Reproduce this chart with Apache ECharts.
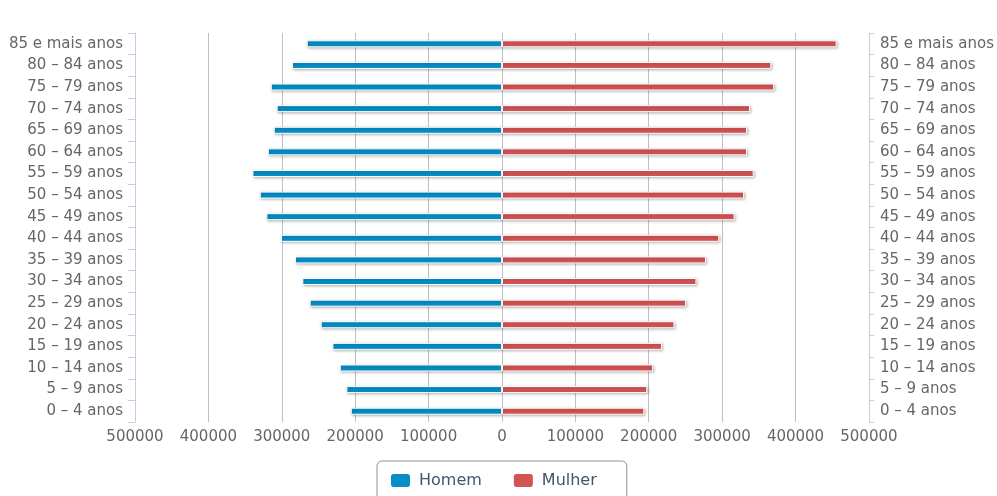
<!DOCTYPE html>
<html>
<head>
<meta charset="utf-8">
<script src="https://cdn.jsdelivr.net/npm/echarts@6/dist/echarts.min.js"></script>
<style>
  html, body { margin: 0; padding: 0; background: #fff; }
  #chart { width: 997px; height: 496px; }
</style>
</head>
<body>
<div id="chart"></div>
<script>
// Age groups, youngest first (bottom of the pyramid)
const categories = [
  '0 – 4 anos', '5 – 9 anos', '10 – 14 anos', '15 – 19 anos', '20 – 24 anos',
  '25 – 29 anos', '30 – 34 anos', '35 – 39 anos', '40 – 44 anos', '45 – 49 anos',
  '50 – 54 anos', '55 – 59 anos', '60 – 64 anos', '65 – 69 anos', '70 – 74 anos',
  '75 – 79 anos', '80 – 84 anos', '85 e mais anos'
];

// Population per age group
const homem = [
  206000, 212000, 221000, 231000, 247000, 262000, 272000, 282000, 301000,
  321000, 330000, 340000, 319000, 311000, 307000, 315000, 286000, 266000
];
const mulher = [
  194000, 198000, 206000, 218000, 235000, 251000, 265000, 278000, 296000,
  317000, 330000, 343000, 334000, 334000, 338000, 371000, 367000, 456000
];

const xTicks = { min: -500000, max: 500000, step: 100000 };

const FONT = 'DejaVu Sans';
const chart = echarts.init(document.getElementById('chart'), null, { renderer: 'canvas' });

const axisLabelStyle = { color: '#666666', fontSize: 15, fontFamily: FONT };
const catAxis = (position, tickLen, margin) => ({
  type: 'category',
  data: categories,
  position: position,
  z: 5,
  axisLine: { show: true, onZero: false, lineStyle: { color: '#C0D0E0', width: 1 } },
  axisTick: { show: true, length: tickLen, lineStyle: { color: '#C0D0E0' } },
  axisLabel: Object.assign({ margin: margin }, axisLabelStyle),
  splitLine: { show: false }
});

const barStyle = (color) => ({
  color: color,
  borderColor: '#ffffff',
  borderWidth: 1,
  shadowColor: 'rgba(0,0,0,0.28)',
  shadowBlur: 3,
  shadowOffsetX: 1,
  shadowOffsetY: 1
});

chart.setOption({
  animation: false,
  backgroundColor: '#ffffff',
  grid: { left: 135, right: 127, top: 33, bottom: 74 },
  legend: {
    left: 377,
    top: 461,
    orient: 'horizontal',
    icon: 'roundRect',
    itemWidth: 21,
    itemHeight: 15,
    itemGap: 30,
    padding: [11, 30, 14, 12],
    borderColor: '#909090',
    borderWidth: 1,
    borderRadius: 5,
    textStyle: { color: '#3E576F', fontSize: 16, fontFamily: FONT, padding: [0, 0, 0, 3] },
    data: ['Homem', 'Mulher']
  },
  xAxis: {
    type: 'value',
    min: xTicks.min,
    max: xTicks.max,
    interval: xTicks.step,
    axisLine: { show: false },
    axisTick: { show: false },
    splitLine: {
      show: true,
      showMinLine: false,
      showMaxLine: false,
      lineStyle: { color: '#C0C0C0', width: 1 }
    },
    axisLabel: Object.assign({ margin: 8, formatter: (v) => String(Math.abs(v)) }, axisLabelStyle)
  },
  yAxis: [catAxis('left', 7, 12), catAxis('right', 5, 11)],
  series: [
    {
      name: 'Homem',
      type: 'bar',
      stack: 'pyramid',
      barWidth: 7,
      data: homem.map((v) => -v),
      itemStyle: barStyle('#058DC7')
    },
    {
      name: 'Mulher',
      type: 'bar',
      stack: 'pyramid',
      barWidth: 7,
      data: mulher,
      itemStyle: barStyle('#D35252')
    }
  ]
});
</script>
</body>
</html>
